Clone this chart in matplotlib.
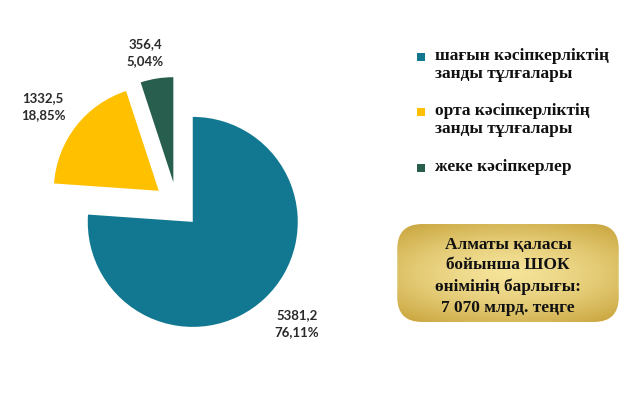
import numpy as np
import matplotlib
matplotlib.use("Agg")
import matplotlib.pyplot as plt
from matplotlib.patches import FancyBboxPatch, Rectangle

categories = ["шағын кәсіпкерліктің\nзанды тұлғалары",
              "орта кәсіпкерліктің\nзанды тұлғалары",
              "жеке кәсіпкерлер"]
values = [5381.2, 1332.5, 356.4]
shares = ["76,11%", "18,85%", "5,04%"]
value_labels = ["5381,2", "1332,5", "356,4"]
colors = ["#127891", "#FFC000", "#275E4E"]
explode = [0.22, 0.22, 0.22]
box_text = "Алматы қаласы\nбойынша ШОК\nөнімінің барлығы:\n7 070 млрд. теңге"

W, H = 640, 393
fig = plt.figure(figsize=(W / 100, H / 100), dpi=100)
fig.patch.set_facecolor("white")

# pie axes: pie centre at pixel (177, 205 from top), radius 105 px
cx, cy, R = 177, 205, 105
ax = fig.add_axes([0, 0, 1, 1])
wedges, _ = ax.pie(values, colors=colors, explode=explode, startangle=90,
                   counterclock=False, radius=1,
                   wedgeprops=dict(linewidth=0))
ax.set_aspect("auto")
ax.set_xlim(-cx / R, (W - cx) / R)
ax.set_ylim(-(H - cy) / R, cy / R)
ax.axis("off")

# data labels (pixel centres)
label_px = [(297, 324), (43, 107), (145, 53)]
for (px, py), v, s in zip(label_px, value_labels, shares):
    ax.text((px - cx) / R, (cy - py) / R, f"{v}\n{s}", ha="center", va="center",
            fontsize=9.5, fontweight="bold", family="Lato", color="#2a2a2a",
            linespacing=1.5)

# legend (manual, square aligned with first line)
leg_y = [57, 112, 168]
for y, cat, col in zip(leg_y, categories, colors):
    fig.patches.append(Rectangle(((417) / W, 1 - (y + 4) / H), 8 / W, 8 / H,
                                 transform=fig.transFigure, facecolor=col,
                                 edgecolor="none"))
    fig.text(435 / W, 1 - (y - 9) / H, cat, ha="left", va="top",
             family="Liberation Serif", fontweight="bold", fontsize=12.5,
             color="#111111", linespacing=1.15)

# gold box
bx0, bx1, by0, by1 = 395, 621, 222, 324
bax = fig.add_axes([bx0 / W, 1 - by1 / H, (bx1 - bx0) / W, (by1 - by0) / H])
bax.set_xlim(0, 1)
bax.set_ylim(0, 1)
bax.axis("off")
xx, yy = np.meshgrid(np.linspace(-1, 1, 300), np.linspace(-1, 1, 150))
r = np.sqrt((xx * 0.8) ** 2 + (yy * 1.0) ** 2)
r = np.clip(r, 0, 1.28) / 1.28
c_in = np.array([0.96, 0.89, 0.60])
c_out = np.array([0.77, 0.62, 0.20])
t = r[..., None] ** 1.5
img = c_in[None, None, :] * (1 - t) + c_out[None, None, :] * t
patch = FancyBboxPatch((0.01, 0.02), 0.98, 0.96,
                       boxstyle="round,pad=0,rounding_size=0.11",
                       mutation_aspect=2.2, transform=bax.transData,
                       facecolor="none", edgecolor="none")
bax.add_patch(patch)
im = bax.imshow(img, extent=(0, 1, 0, 1), aspect="auto", origin="lower")
im.set_clip_path(patch)
bax.text(0.5, 0.47, box_text, ha="center", va="center",
         family="Liberation Serif", fontweight="bold", fontsize=12.5,
         color="#111111", linespacing=1.4)

fig.savefig("out.png", dpi=100, facecolor="white")
